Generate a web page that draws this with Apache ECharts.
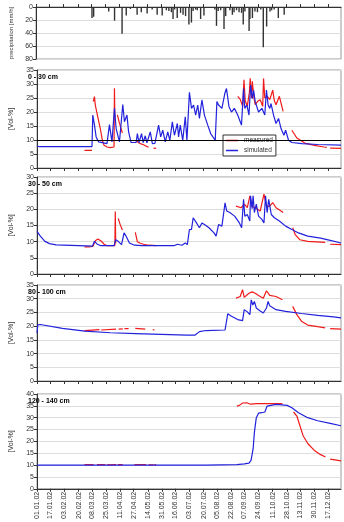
<!DOCTYPE html>
<html>
<head>
<meta charset="utf-8">
<script src="https://cdn.jsdelivr.net/npm/echarts@6/dist/echarts.min.js"></script>
<style>
  html, body { margin: 0; padding: 0; background: #fff; }
  #chart { width: 344px; height: 522px; }
</style>
</head>
<body>
<div id="chart"></div>
<script>
// x axis: day of year 2002, tick labels
var tickLabels = ['01.01.02', '17.01.02', '03.02.02', '20.02.02', '08.03.02', '25.03.02', '11.04.02',
  '27.04.02', '14.05.02', '31.05.02', '16.06.02', '03.07.02', '20.07.02', '05.08.02', '22.08.02',
  '07.09.02', '24.09.02', '11.10.02', '28.10.02', '13.11.02', '30.11.02', '17.12.02'];

// precipitation [mm/h] : [day, value]
var precip = [[67, 17], [69, 15], [87, 7], [94, 21], [103, 41], [108, 13], [113, 3], [121, 12], [126, 8],
  [133, 10], [139, 4], [145, 12], [151, 13], [156, 5], [159, 6], [162, 8], [164, 18.5], [166, 4], [169, 17],
  [173, 9], [176, 12], [179, 14], [183, 27], [186, 24], [188, 6], [191, 4], [193, 5], [197, 18.5], [201, 13],
  [214, 4], [216, 29], [218, 6], [221, 5], [225, 34], [227, 14], [232, 5], [235, 12], [237, 8], [240, 5],
  [243, 8], [246, 9], [248, 27], [250, 7], [255, 37], [256, 18.5], [259, 17], [262, 7], [265, 8], [269, 4],
  [272, 62], [276, 30], [280, 7], [282, 5], [285, 4], [290, 17], [297, 12]];

// 0 - 30 cm
var sim030 = [[0, 7.8], [3, 7.6], [66, 7.6], [67, 18.9], [69, 15.3], [71, 11.1], [74, 9.3], [84, 8.7], [87, 15.5],
  [90, 9.3], [93, 21.3], [95, 14.1], [99, 9.3], [103, 22.7], [105, 16.5], [108, 18.9], [110, 12.9], [113, 9.1],
  [119, 9.1], [120.5, 12.3], [122.5, 9.1], [125.5, 12.3], [127.5, 9.1], [130, 11.5], [132, 9], [134, 9.3],
  [136, 12.9], [138.5, 8.7], [141.5, 8.8], [146, 15.3], [148.5, 11.1], [151, 13.5], [154, 9.3], [157, 12.9],
  [159.5, 9.9], [162.5, 16.5], [165, 11.7], [168.5, 15.9], [170, 11.1], [172, 15.3], [175, 9.9], [178, 18.3],
  [180, 9.9], [183, 27], [185.5, 21.3], [188, 22.5], [190.5, 18.9], [193, 22.5], [195, 17.7], [198, 24.3],
  [201, 18.9], [205, 15.3], [208.5, 12.3], [214, 9.9], [216, 23.7], [218, 22.5], [222, 21.3], [225.5, 26.6],
  [227.5, 28.4], [230.5, 21.9], [233.5, 20], [237, 21.3], [241, 18.9], [245.5, 15.3], [248, 28.4],
  [249.5, 21.3], [252, 22.5], [254.5, 18.9], [256.5, 29.6], [258.5, 24.8], [260, 27.8], [262, 23.7],
  [266, 20], [270, 21.3], [273.5, 18.9], [275.5, 27.8], [277.5, 22.5], [279.5, 21.3], [281, 23],
  [284, 18.9], [287, 15.9], [290, 17.7], [293, 14.1], [296.5, 11.7], [298.5, 13.5], [302, 9.9],
  [306, 9.1], [318, 8.7], [337, 8.4], [365, 8.2]];
var meas030 = [
  [[57, 6.3], [66, 6.3]],
  [[67.5, 23.7], [69, 25.5], [70, 22.5], [72.5, 18.9], [76, 14.1], [78.5, 9.9], [80.5, 8.1], [84, 7.5],
    [88, 7.3], [92.5, 7.5], [93, 28.5], [93.5, 18]],
  [[96.5, 19], [99, 16], [102.5, 12.5]],
  [[119, 9.8], [122, 9], [125, 8.6], [128, 8.3], [131, 7.8], [134, 7.4]],
  [[140, 7.1], [143, 7.0]],
  [[241, 25.6], [244, 24.5], [247, 22], [248.5, 31.5], [250, 24], [252.5, 22.1], [255, 27], [256, 32],
    [257.5, 25], [258.5, 31], [260.5, 25], [262, 22.6], [265, 23.8], [268, 24.4], [271, 22], [272, 32],
    [273.5, 25], [276.5, 25.6], [279.5, 24.4], [283, 27.8], [285, 24], [287, 22.6], [291, 25.6], [295.5, 20.2]],
  [[306, 13.5], [312, 10.7], [321.5, 8.9], [333, 8.1], [344.5, 7.5], [348, 7.4]],
  [[352, 7.1], [365, 7.0]]
];

// 30 - 50 cm
var sim3050 = [[0, 13.2], [4, 11.7], [9.5, 10.1], [15, 9.4], [23, 9.0], [50, 8.75], [66.5, 8.6], [69, 10.1],
  [72, 9.3], [76.5, 8.75], [92.5, 8.75], [94.5, 10.6], [97.5, 10.1], [101.5, 9.1], [104.5, 12.7], [107, 11.7],
  [111, 9.6], [117, 8.9], [126, 8.75], [164.5, 8.75], [168.5, 9.2], [174, 8.9], [178, 9.6], [180.5, 9.1],
  [183, 13.75], [185.5, 13.8], [187.5, 17.4], [191.5, 15.8], [195, 14.3], [198, 15.8], [201, 15.3],
  [203, 15.8], [206.5, 14.3], [212.5, 12.7], [215, 11.7], [218, 15.3], [222, 14.8], [224, 14.3],
  [225.8, 22], [227.7, 19.5], [231.5, 19], [237.3, 17.9], [243, 15.8], [245.7, 14.3], [248, 23.1],
  [249.5, 17.9], [252.5, 18.4], [255.5, 16.4], [256.4, 24.2], [258.3, 20.2], [259.5, 24.2], [261, 19],
  [263.3, 21.6], [266, 17.9], [270, 16.9], [272.5, 15.8], [274.4, 24.2], [276.3, 19], [278.2, 23.1],
  [281.3, 18.4], [285, 17.4], [291, 16.4], [298.5, 14.8], [306, 13.75], [314, 12.7], [325, 11.7],
  [340.5, 11.1], [352, 10.4], [365, 9.6]];
var meas3050 = [
  [[57, 8.4], [62, 8.4], [67, 8.5], [70, 10.3], [73, 10.8], [77, 10.2], [81, 9.1], [84, 8.8], [91, 8.8],
    [93.5, 8.8], [94, 19.3], [94.5, 9.5]],
  [[97.5, 17.2], [100, 15.2], [102.5, 13.6]],
  [[118, 12.9], [120.5, 10], [124, 9.5], [128, 9.2], [134, 8.9], [143.5, 8.8]],
  [[239, 21], [245, 20.5], [249, 21.6], [252.5, 20.5], [255.6, 24.2], [258, 21], [262, 20.5], [268, 19.5],
    [272.5, 24.7], [275.5, 21], [279.4, 21], [283, 22.1], [287, 20.5], [293, 19.5], [295.5, 19]],
  [[307, 14.3], [310, 12.2], [315.5, 10.6], [325, 10.1], [346, 9.8]],
  [[352, 9.2], [365, 9.1]]
];

// 80 - 100 cm
var sim80100 = [[0, 17.5], [1, 20.5], [4, 20.6], [30.5, 19.2], [57.5, 18.2], [88, 17.6], [118.5, 17.3],
  [149, 17], [180, 16.7], [189.5, 16.7], [195, 18], [203, 18.4], [225.8, 18.6], [229, 24.5], [233.5, 23.6],
  [241, 22.4], [246.8, 22], [248.8, 26], [252.6, 25.2], [255.6, 24.2], [257.2, 29.6], [259.1, 27.7],
  [261, 29], [263.3, 26.6], [268, 25.5], [271.7, 24.8], [275.5, 26.6], [277.5, 29], [279.4, 27.4],
  [287, 26], [298.5, 25.4], [317.6, 24.6], [337, 23.9], [356, 23.4], [365, 23]];
var meas80100 = [
  [[57, 18.4], [75, 18.7]],
  [[77, 18.6], [95, 18.9]],
  [[98, 18.9], [103, 19]],
  [[105, 19.1], [110, 19.1]],
  [[118, 19.2], [130, 18.9]],
  [[139, 18.7], [141, 18.6]],
  [[239, 30.2], [244, 30.8], [246.8, 33.3], [248.8, 30.5], [254.5, 32], [258.3, 32.5], [262, 32],
    [266, 31.2], [271.7, 30.2], [275.5, 32.9], [279.4, 31.2], [287, 30.8], [294.7, 29.6]],
  [[307, 27.2], [312, 24.2], [317.5, 21.8], [325, 20.4], [337, 19.8], [346, 19.4]],
  [[352, 19.1], [365, 18.9]]
];

// 120 - 140 cm
var sim120140 = [[0, 10], [203, 10], [240, 10.2], [249, 10.5], [254.5, 10.8], [257, 12], [259.5, 16.9],
  [261, 23.8], [263.3, 30], [266, 31.9], [270, 32.1], [273.6, 32.4], [276.3, 34.9], [277.5, 35.7],
  [287, 35.6], [300.4, 35.2], [306, 34.2], [314, 32.1], [325, 30], [337, 28.7], [352, 27.6], [365, 26.6]];
var meas120140 = [
  [[57, 10.2], [68, 10.2]],
  [[72, 10.2], [82, 10.2]],
  [[84, 10.1], [95, 10.2]],
  [[97, 10.2], [103, 10.2]],
  [[117, 10.2], [131, 10.2]],
  [[134, 10.1], [140, 10.1]],
  [[141, 10.2], [143, 10.2]],
  [[240, 34.9], [243, 35.2], [245, 35.3], [247, 36.2], [249, 35.5], [252, 36.3], [256.4, 35.7],
    [264, 35.9], [279.4, 35.9], [294.7, 35.9]],
  [[308, 32.4], [312, 30.7], [315.7, 26.6], [319.5, 22.4], [325.3, 19], [333, 16.2], [340.6, 14.4],
    [346.3, 13.4]],
  [[352, 12.5], [365, 11.8]]
];

var panelTitles = ['0 - 30 cm', '30 - 50 cm', '80 - 100 cm', '120 - 140 cm'];
var panelMax = [35, 30, 35, 40];

//把刻度标签换算成年内天数
var tickDays = tickLabels.map(function(s) {
  var p = s.split('.');
  return Math.round((Date.UTC(2002, +p[1] - 1, +p[0]) - Date.UTC(2002, 0, 1)) / 86400000);
});

//把分段数据拼成一条线，段与段之间用'-'断开
function joinSegments(segs) {
  var out = [];
  segs.forEach(function(seg, i) {
    if (i > 0) out.push([seg[0][0] - 0.1, '-']);
    seg.forEach(function(p) { out.push(p); });
  });
  return out;
}

var FONT = 'Liberation Sans';
var RED = '#f01a1a', BLUE = '#2222dd';
var gridPos = [[7, 52], [70, 98], [177, 97], [285, 96], [394, 97]];
var measured = [meas030, meas3050, meas80100, meas120140];
var simulated = [sim030, sim3050, sim80100, sim120140];

var grids = [], xAxes = [], yAxes = [], series = [], titles = [];

gridPos.forEach(function(g, i) {
  grids.push({ left: 24, width: 317, top: g[0], height: g[1], show: true, borderColor: '#999', borderWidth: 1 });
  xAxes.push({
    type: 'value', gridIndex: i, min: 0, max: 365,
    position: i === 0 ? 'top' : 'bottom',
    axisLine: { onZero: false, lineStyle: { color: '#333', width: 1 } },
    axisTick: { show: true, customValues: tickDays, length: 3, lineStyle: { color: '#333' } },
    axisLabel: {
      show: i === gridPos.length - 1, customValues: tickDays, rotate: 90, margin: 3,
      fontFamily: FONT, fontSize: 7, color: '#333',
      formatter: function(v) { var k = tickDays.indexOf(v); return k >= 0 ? tickLabels[k] : ''; }
    },
    splitLine: { show: false }
  });
});

//降水 y 轴（倒置）
yAxes.push({
  type: 'value', gridIndex: 0, min: 0, max: 80, interval: 20, inverse: true,
  name: 'precipitation [mm/h]', nameLocation: 'middle', nameGap: 22, nameRotate: 90,
  nameTextStyle: { fontFamily: FONT, fontSize: 6, color: '#333' },
  axisLine: { show: true, lineStyle: { color: '#333' } },
  axisTick: { show: true, length: 3, lineStyle: { color: '#333' } },
  axisLabel: { fontFamily: FONT, fontSize: 7, color: '#333', margin: 3 },
  splitLine: { show: true, lineStyle: { color: '#ddd' } }
});
series.push({
  type: 'bar', xAxisIndex: 0, yAxisIndex: 0, data: precip, barWidth: 1.4,
  itemStyle: { color: '#333' }
});

panelTitles.forEach(function(t, k) {
  var i = k + 1;
  yAxes.push({
    type: 'value', gridIndex: i, min: 0, max: panelMax[k], interval: 5,
    name: '[Vol-%]', nameLocation: 'middle', nameGap: 22, nameRotate: 90,
    nameTextStyle: { fontFamily: FONT, fontSize: 7, color: '#333' },
    axisLine: { show: true, lineStyle: { color: '#333' } },
    axisTick: { show: true, length: 3, lineStyle: { color: '#333' } },
    axisLabel: { fontFamily: FONT, fontSize: 7, color: '#333', margin: 3 },
    splitLine: { show: true, lineStyle: { color: '#ddd' } }
  });
  titles.push({
    text: t, left: 28, top: gridPos[i][0] + 4, padding: 0,
    textStyle: { fontFamily: FONT, fontSize: 7, fontWeight: 'bold', color: '#000' }
  });
  series.push({
    name: 'measured', type: 'line', xAxisIndex: i, yAxisIndex: i, data: joinSegments(measured[k]),
    symbol: 'none', connectNulls: false, lineStyle: { color: RED, width: 1.2 },
    itemStyle: { color: RED }
  });
  var sim = {
    name: 'simulated', type: 'line', xAxisIndex: i, yAxisIndex: i, data: simulated[k],
    symbol: 'none', lineStyle: { color: BLUE, width: 1.2 }, itemStyle: { color: BLUE }
  };
  if (k === 0) {
    sim.markLine = {
      silent: true, symbol: 'none', label: { show: false },
      lineStyle: { color: '#000', width: 1, type: 'solid' },
      data: [{ yAxis: 10 }]
    };
  }
  series.push(sim);
});

var myChart = echarts.init(document.getElementById('chart'));
myChart.setOption({
  animation: false,
  backgroundColor: '#fff',
  title: titles,
  legend: {
    data: [{ name: 'measured', icon: 'rect' }, { name: 'simulated', icon: 'rect' }],
    orient: 'vertical', left: 223, top: 135,
    itemWidth: 12, itemHeight: 1.5, itemGap: 3, padding: [2, 3, 2, 3],
    borderColor: '#333', borderWidth: 1, backgroundColor: '#fff',
    textStyle: { fontFamily: FONT, fontSize: 6.5, color: '#333', padding: [0, 0, 0, 1] }
  },
  grid: grids,
  xAxis: xAxes,
  yAxis: yAxes,
  series: series
});
</script>
</body>
</html>
